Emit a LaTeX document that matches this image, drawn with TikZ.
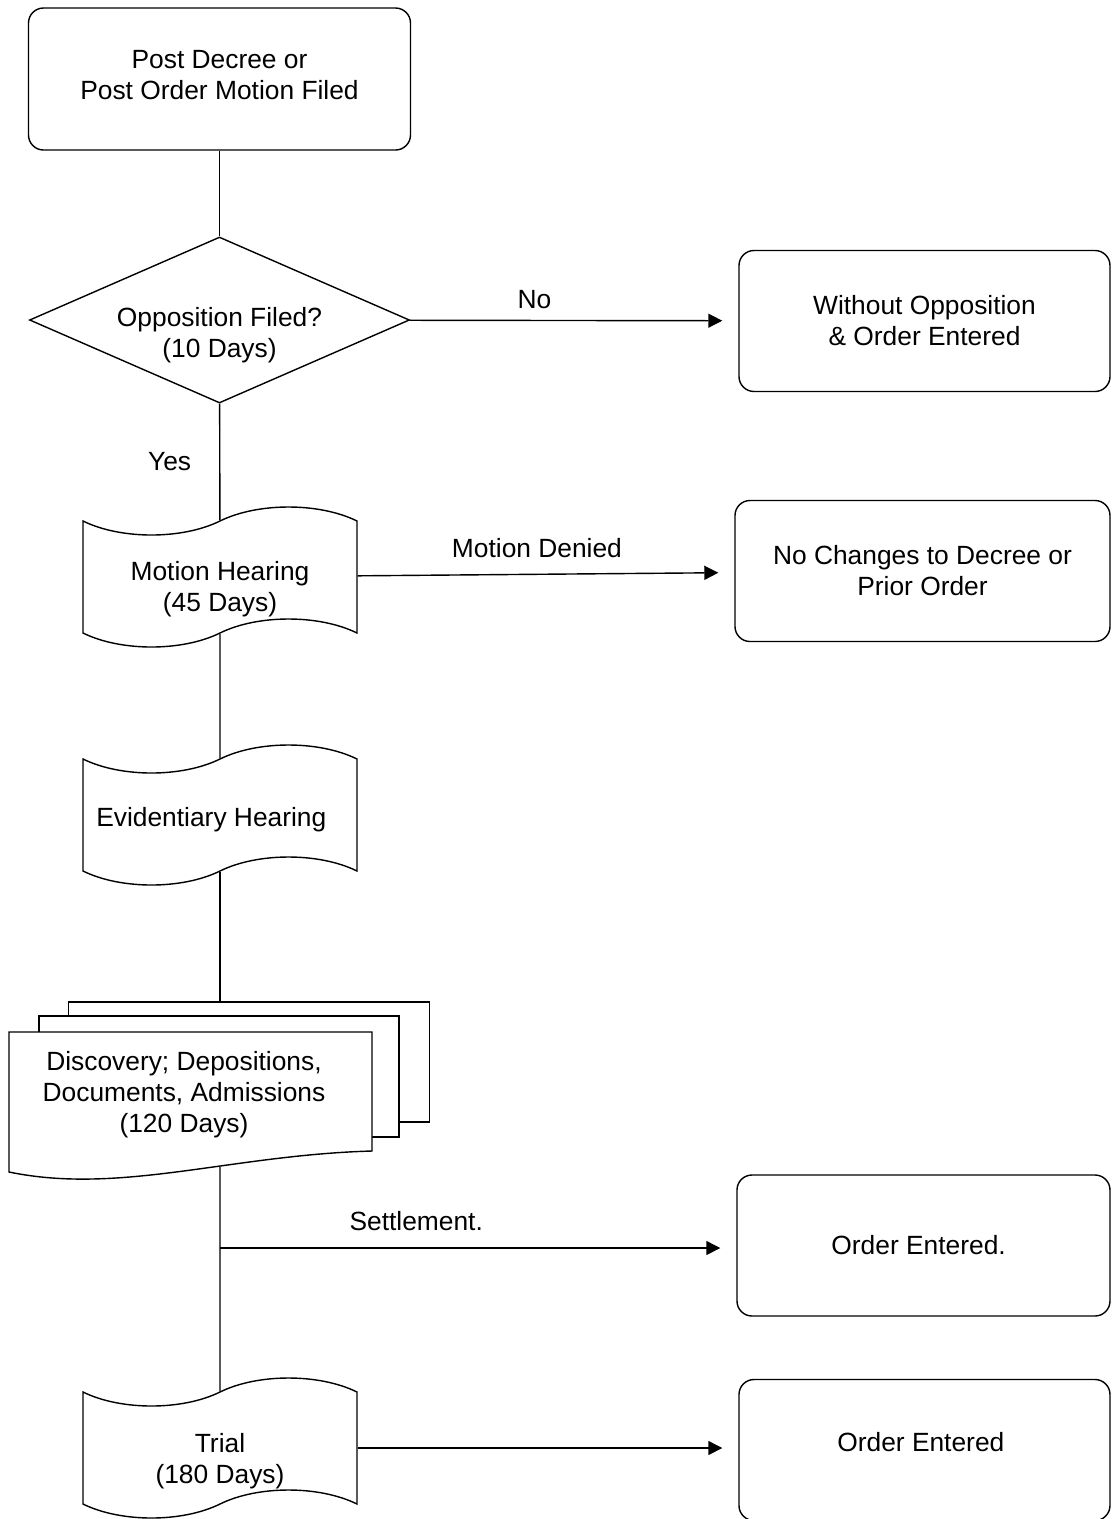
\documentclass[tikz,border=0pt]{standalone}
\usepackage{fontspec}
\setmainfont{Liberation Sans}
\usetikzlibrary{shapes.geometric,shapes.symbols,arrows.meta}

\begin{document}
\begin{tikzpicture}[
    every node/.style={
        font=\fontsize{15}{17.6}\selectfont
    },
    base/.style={
        draw,
        line width=0.8pt,
        align=center
    },
    rbox/.style={
        base,
        rectangle,
        rounded corners=0.3cm,
        minimum width=7.42cm,
        minimum height=2.82cm
    },
    decision/.style={
        base,
        diamond,
        aspect=2.3,
        inner sep=0pt,
        minimum width=7.6cm,
        minimum height=3.32cm
    },
    tapebox/.style={
        base,
        tape,
        tape bend height=0.56cm,
        minimum width=5.48cm,
        minimum height=2.8cm
    },
    sheet/.style={
        base,
        rectangle,
        fill=white,
        minimum width=7.22cm,
        minimum height=2.4cm
    },
    txt/.style={
        align=center
    },
    link/.style={
        line width=0.8pt
    },
    arrow/.style={
        ->,
        >={Triangle[length=0.28cm, width=0.28cm]},
        line width=0.8pt,
        shorten >=0.32cm
    },
    lbl/.style={
        inner sep=0pt
    }
]
\useasboundingbox (0,0) rectangle (22.24,-30.38);

% Colonna sinistra
\node[rbox, minimum width=7.64cm, minimum height=2.84cm] (start) at (4.39,-1.58) {};
\node[txt] (starttxt) at ([yshift=0.08cm]start.center) {
    Post Decree or\\
    Post Order Motion Filed
};

\node[decision] (opp) at (4.39,-6.40) {};
\node[txt] (opptxt) at ([yshift=-0.30cm]opp.center) {
    Opposition Filed?\\
    (10 Days)
};

\node[tapebox] (hearing) at (4.40,-11.54) {};
\node[txt] (hearingtxt) at ([yshift=-0.24cm]hearing.center) {
    Motion Hearing\\
    (45 Days)
};

\node[tapebox] (evid) at (4.40,-16.30) {};
\node[txt] (evidtxt) at ([xshift=-0.1cm, yshift=-0.1cm]evid.center) {
    Evidentiary Hearing
};

% Discovery: tre fogli
\node[sheet] (discback) at (4.98,-21.24) {};
\node[sheet, minimum width=7.2cm, minimum height=2.42cm] (discmid) at (4.38,-21.53) {};
\draw[link, fill=white] (0.18,-20.64) -- (7.44,-20.64) -- (7.44,-23.02)
    .. controls (4.6,-23.10) and (2.4,-23.90) .. (0.18,-23.44) -- cycle;
\node[txt] (disc) at (3.68,-21.90) {
    Discovery; Depositions,\\
    Documents, Admissions\\
    (120 Days)
};
\coordinate (discbot) at (4.40,-23.34);
\coordinate (settle) at (4.40,-24.96);

\node[tapebox] (trial) at (4.40,-28.96) {};
\node[txt] (trialtxt) at ([yshift=-0.26cm]trial.center) {
    Trial\\
    (180 Days)
};

% Colonna destra
\node[rbox] (noopp) at (18.49,-6.42) {
    Without Opposition\\
    \& Order Entered
};

\node[rbox, minimum width=7.5cm] (denied) at (18.45,-11.42) {
    No Changes to Decree or\\
    Prior Order
};

\node[rbox, minimum width=7.46cm] (settled) at (18.47,-24.91) {
    Order Entered.
};

\node[rbox] (order) at (18.49,-29.00) {};
\node[txt] (ordertxt) at ([yshift=0.16cm]order.center) {
    Order Entered
};

% Collegamenti
\draw[link] (start) -- (opp);
\draw[arrow] (opp) -- node[lbl, above=0.21cm, pos=0.38] (lblno) {No} (noopp);
\draw[link] (opp) -- node[lbl, left=0.56cm] (lblyes) {Yes} (hearing);
\draw[arrow] (hearing) -- node[lbl, above=0.31cm, pos=0.476] (lbldenied) {Motion Denied} (denied);
\draw[link] (hearing) -- (evid);
\draw[link] (evid.south) -- (evid.south |- discback.north);
\draw[link] (discbot) -- (trial);
\draw[arrow] (settle) -- node[lbl, above=0.33cm, pos=0.38] (lblsettle) {Settlement.} (settle -| settled.west);
\draw[arrow] (trial.east) -- (trial.east -| order.west);

\end{tikzpicture}
\end{document}
